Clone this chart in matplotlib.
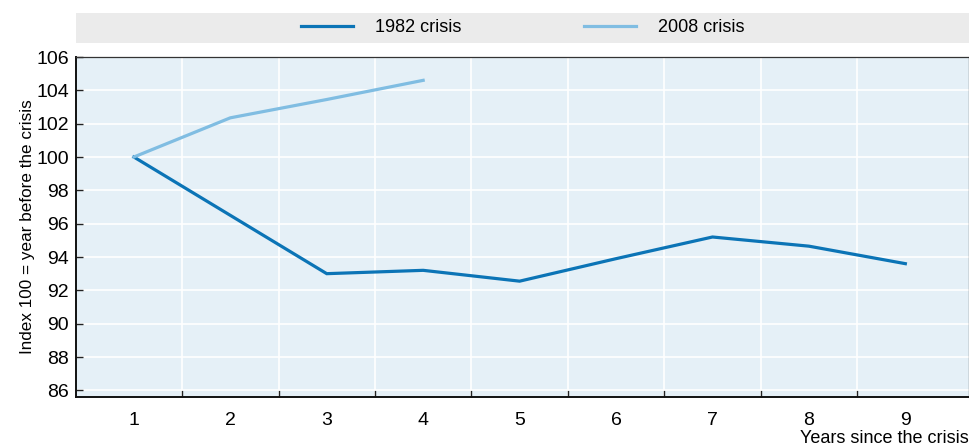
import matplotlib
matplotlib.use("Agg")
import matplotlib.pyplot as plt
from matplotlib.lines import Line2D

plt.rcParams['font.family'] = ['Liberation Sans Narrow', 'Liberation Sans', 'DejaVu Sans']

years = [1, 2, 3, 4, 5, 6, 7, 8, 9]
crisis_1982 = [100.0, 96.5, 93.0, 93.2, 92.55, 93.9, 95.2, 94.65, 93.6]
years_2008 = [1, 2, 3, 4]
crisis_2008 = [100.0, 102.35, 103.45, 104.6]
yticks = [86, 88, 90, 92, 94, 96, 98, 100, 102, 104, 106]

C1982 = '#0b74b6'
C2008 = '#80bde2'
BG = '#e5f0f7'

fig = plt.figure(figsize=(9.7, 4.46), dpi=100)
ax = fig.add_axes([76/970, 1-397/446, 893/970, 340/446], facecolor=BG)

ax.plot(years, crisis_1982, color=C1982, lw=2.3, solid_joinstyle='miter')
ax.plot(years_2008, crisis_2008, color=C2008, lw=2.3, solid_joinstyle='miter')

ax.set_xlim(0.4, 9.66)
ax.set_ylim(85.6, 106)
ax.set_yticks(yticks)
ax.set_xticks(years)
ax.set_xticks([x + 0.5 for x in years[:-1]], minor=True)
ax.grid(True, axis='y', color='white', lw=1.2)
ax.grid(True, axis='x', which='minor', color='white', lw=1.2)
ax.set_axisbelow(True)

ax.tick_params(axis='y', direction='in', length=5, width=1, pad=5, labelsize=14, color='#222222')
ax.tick_params(axis='x', which='major', length=0, pad=11, labelsize=14)
ax.tick_params(axis='x', which='minor', direction='in', length=5, width=1, color='#222222')

for side in ['left', 'bottom']:
    ax.spines[side].set_linewidth(1.4)
    ax.spines[side].set_color('#111111')
for side in ['top', 'right']:
    ax.spines[side].set_linewidth(0.9)
    ax.spines[side].set_color('#333333')

ax.set_ylabel('Index 100 = year before the crisis', fontsize=12.3, labelpad=1)
fig.text(969/970, 1-443/446, 'Years since the crisis', ha='right', va='baseline', fontsize=13)

# legend strip
lax = fig.add_axes([76/970, 1-43/446, 893/970, 30/446], facecolor='#ebebeb')
lax.set_xticks([]); lax.set_yticks([])
for sp in lax.spines.values():
    sp.set_visible(False)
handles = [Line2D([], [], color=C1982, lw=2.3), Line2D([], [], color=C2008, lw=2.3)]
lax.legend(handles, ['1982 crisis', '2008 crisis'], loc='center', ncol=2, frameon=False,
           fontsize=13, handlelength=2.9, handletextpad=1.2, columnspacing=6.8)

fig.savefig('out.png', dpi=100)
